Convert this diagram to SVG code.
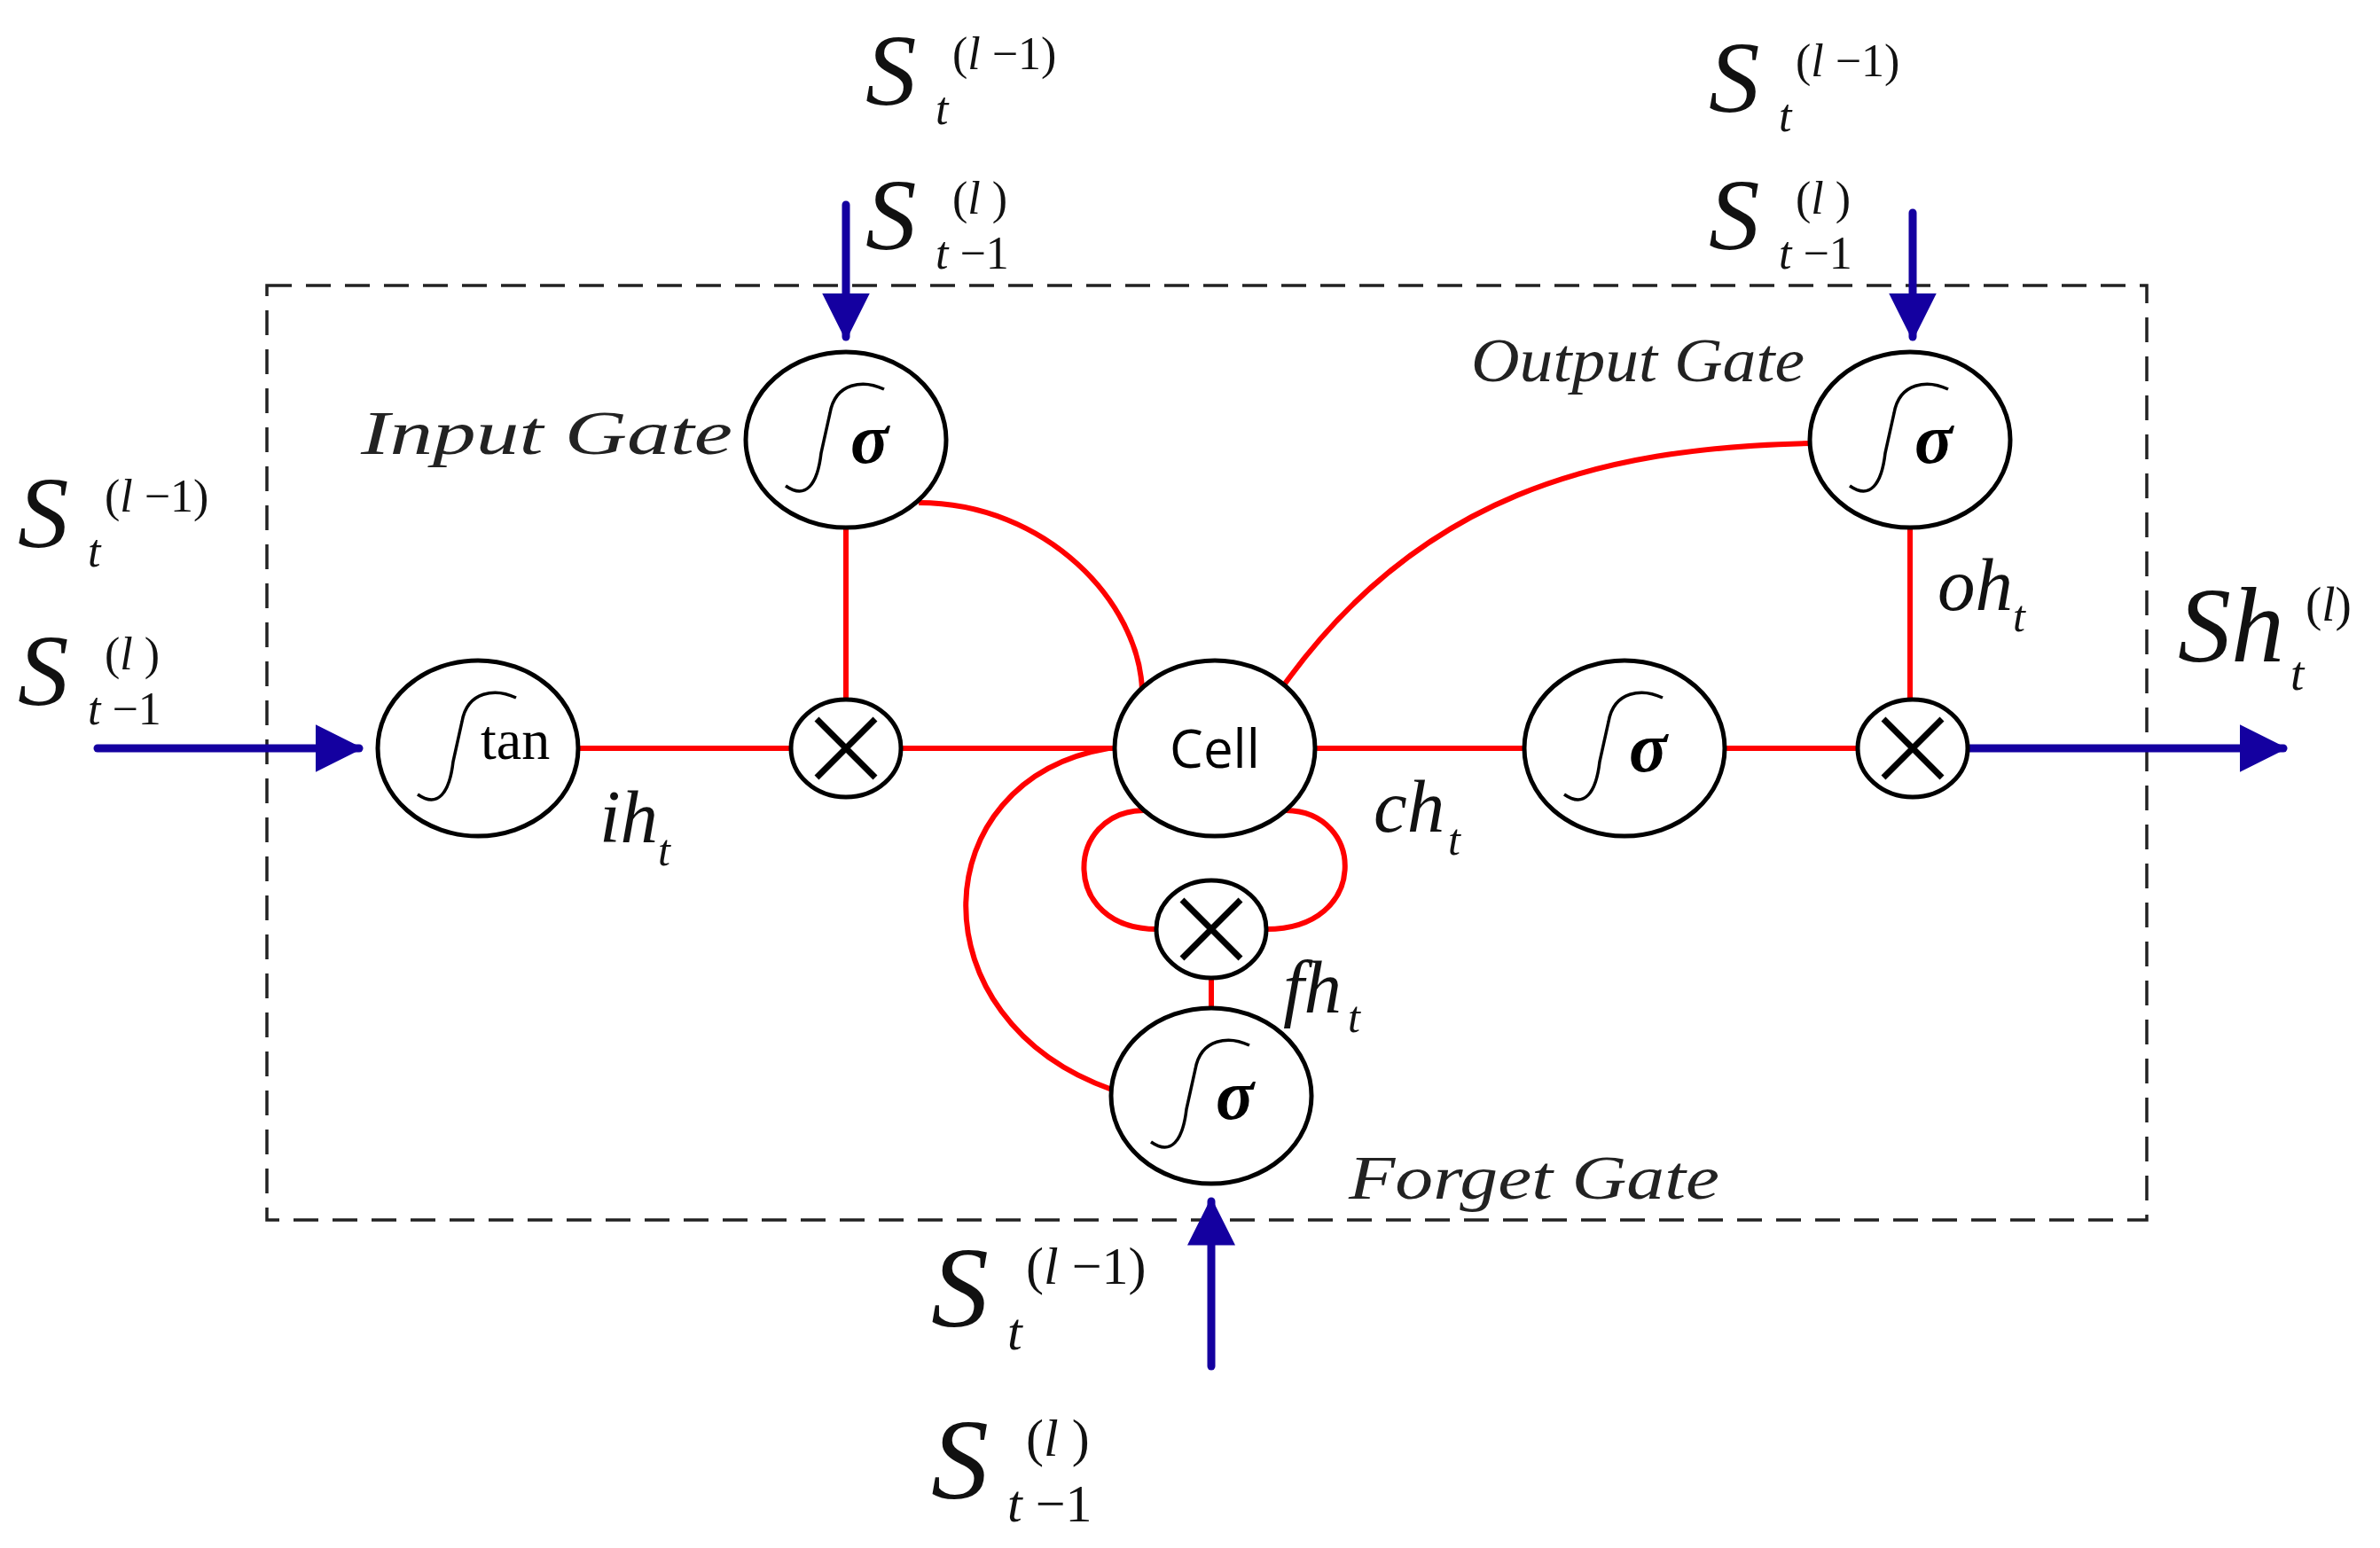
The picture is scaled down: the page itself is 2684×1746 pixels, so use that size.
<svg xmlns="http://www.w3.org/2000/svg" width="2684" height="1746" viewBox="0 0 2684 1746">
<style>
.n{fill:#fff;stroke:#000;stroke-width:5}
.r{fill:none;stroke:#f00;stroke-width:6}
.b{fill:none;stroke:#1400a0;stroke-width:9;stroke-linecap:round}
.x{stroke:#000;stroke-width:7}
.ig{fill:none;stroke:#000;stroke-width:3.5}
.m{font-family:"Liberation Serif","Times New Roman","DejaVu Serif",serif;font-style:italic;fill:#111}
.g{font-family:"Liberation Serif","Times New Roman","DejaVu Serif",serif;font-style:italic;font-size:70px;fill:#222}
.s{font-family:"Liberation Serif","Times New Roman","DejaVu Serif",serif;font-size:80px;font-style:italic;font-weight:bold}
.u{font-style:normal}
</style>
<defs>
<marker id="a" markerWidth="6" markerHeight="6" refX="5.5" refY="3" orient="auto" markerUnits="strokeWidth"><path d="M0,0 L6,3 L0,6 Z" fill="#1400a0"/></marker>
<path id="int" class="ig" d="M -68 52 C -45 68 -32 50 -28 15 L -18 -30 C -12 -65 20 -68 43 -57"/>
</defs>
<rect x="301" y="322" width="2120" height="1054" fill="none" stroke="#222" stroke-width="3.5" stroke-dasharray="28 16"/>
<g id="connectors">
<path class="r" d="M652 844 H893 M1016 844 H1257 M954 596 V790 M1036 567 C1180 567 1285 680 1288 779 M1447 774 C1600 560 1800 505 2041 500 M1483 844 H1719 M1945 844 H2095 M2154 596 V790 M1290 914 C1200 915 1195 1048 1305 1048 M1450 914 C1540 915 1545 1048 1428 1048 M1366 1103 V1137 M1254 1229 C1030 1150 1040 880 1250 844"/>
<path class="b" marker-end="url(#a)" d="M110 844 H405"/>
<path class="b" marker-end="url(#a)" d="M954 231 V380"/>
<path class="b" marker-end="url(#a)" d="M2157 240 V380"/>
<path class="b" marker-end="url(#a)" d="M1366 1541 V1355"/>
<path class="b" marker-end="url(#a)" d="M2219 844 H2575"/>
</g>
<g id="input_gate"><ellipse class="n" cx="954" cy="496" rx="113" ry="99"/><use href="#int" x="954" y="496"/><text class="s" x="959" y="522">σ</text></g>
<g id="output_gate"><ellipse class="n" cx="2154" cy="496" rx="113" ry="99"/><use href="#int" x="2154" y="496"/><text class="s" x="2159" y="522">σ</text></g>
<g id="tan_node"><ellipse class="n" cx="539" cy="844" rx="113" ry="99"/><use href="#int" x="539" y="844"/><text x="542" y="856" font-family="Liberation Serif,Times New Roman,DejaVu Serif,serif" font-size="64">tan</text></g>
<g id="mult_in"><ellipse class="n" cx="954" cy="844" rx="62" ry="55"/><path class="x" d="M921 811 L987 877 M987 811 L921 877"/></g>
<g id="cell"><ellipse class="n" cx="1370" cy="844" rx="113" ry="99"/><text x="1370" y="866" text-anchor="middle" font-family="Open Sans,sans-serif" font-size="60">Cell</text></g>
<g id="sigma_out"><ellipse class="n" cx="1832" cy="844" rx="113" ry="99"/><use href="#int" x="1832" y="844"/><text class="s" x="1837" y="870">σ</text></g>
<g id="mult_out"><ellipse class="n" cx="2157" cy="844" rx="62" ry="55"/><path class="x" d="M2124 811 L2190 877 M2190 811 L2124 877"/></g>
<g id="mult_forget"><ellipse class="n" cx="1366" cy="1048" rx="62" ry="55"/><path class="x" d="M1333 1015 L1399 1081 M1399 1015 L1333 1081"/></g>
<g id="forget_gate"><ellipse class="n" cx="1366" cy="1236" rx="113" ry="99"/><use href="#int" x="1366" y="1236"/><text class="s" x="1371" y="1262">σ</text></g>
<g id="labels">
<text class="g" x="407" y="512" textLength="419" lengthAdjust="spacingAndGlyphs">Input  Gate</text>
<text class="g" x="1659" y="430" textLength="376" lengthAdjust="spacingAndGlyphs">Output  Gate</text>
<text class="g" x="1521" y="1352" textLength="418" lengthAdjust="spacingAndGlyphs">Forget  Gate</text>
<text class="m" font-size="85"><tspan x="676" y="950">ih</tspan><tspan x="742" y="976" font-size="50">t</tspan></text>
<text class="m" font-size="85"><tspan x="1549" y="938">ch</tspan><tspan x="1633" y="964" font-size="50">t</tspan></text>
<text class="m" font-size="85"><tspan x="2185" y="688">oh</tspan><tspan x="2270" y="712" font-size="50">t</tspan></text>
<text class="m" font-size="85"><tspan x="1447" y="1142">fh</tspan><tspan x="1520" y="1164" font-size="50">t</tspan></text>
<g font-size="115" class="m">
<text x="976" y="118">S</text><text x="1074" y="78" font-size="52" class="u">(<tspan font-style="italic">l</tspan> −1)</text><text x="1055" y="140" font-size="52">t</text>
<text x="976" y="281">S</text><text x="1074" y="241" font-size="52" class="u">(<tspan font-style="italic">l</tspan> )</text><text x="1055" y="303" font-size="52">t <tspan class="u">−1</tspan></text>
<text x="20" y="617">S</text><text x="118" y="577" font-size="52" class="u">(<tspan font-style="italic">l</tspan> −1)</text><text x="99" y="639" font-size="52">t</text>
<text x="20" y="795">S</text><text x="118" y="755" font-size="52" class="u">(<tspan font-style="italic">l</tspan> )</text><text x="99" y="817" font-size="52">t <tspan class="u">−1</tspan></text>
<text x="1927" y="126">S</text><text x="2025" y="86" font-size="52" class="u">(<tspan font-style="italic">l</tspan> −1)</text><text x="2006" y="148" font-size="52">t</text>
<text x="1927" y="281">S</text><text x="2025" y="241" font-size="52" class="u">(<tspan font-style="italic">l</tspan> )</text><text x="2006" y="303" font-size="52">t <tspan class="u">−1</tspan></text>
</g>
<g font-size="130" class="m">
<text x="1050" y="1496">S</text><text x="1157" y="1448" font-size="60" class="u">(<tspan font-style="italic">l</tspan> −1)</text><text x="1136" y="1522" font-size="60">t</text>
<text x="1050" y="1690">S</text><text x="1157" y="1642" font-size="60" class="u">(<tspan font-style="italic">l</tspan> )</text><text x="1136" y="1716" font-size="60">t <tspan class="u">−1</tspan></text>
</g>
<text class="m" font-size="120" x="2456" y="746">Sh</text>
<text class="m" font-size="55" x="2583" y="778">t</text>
<text class="m u" font-size="55" x="2600" y="700">(<tspan font-style="italic">l</tspan>)</text>
</g>
</svg>
